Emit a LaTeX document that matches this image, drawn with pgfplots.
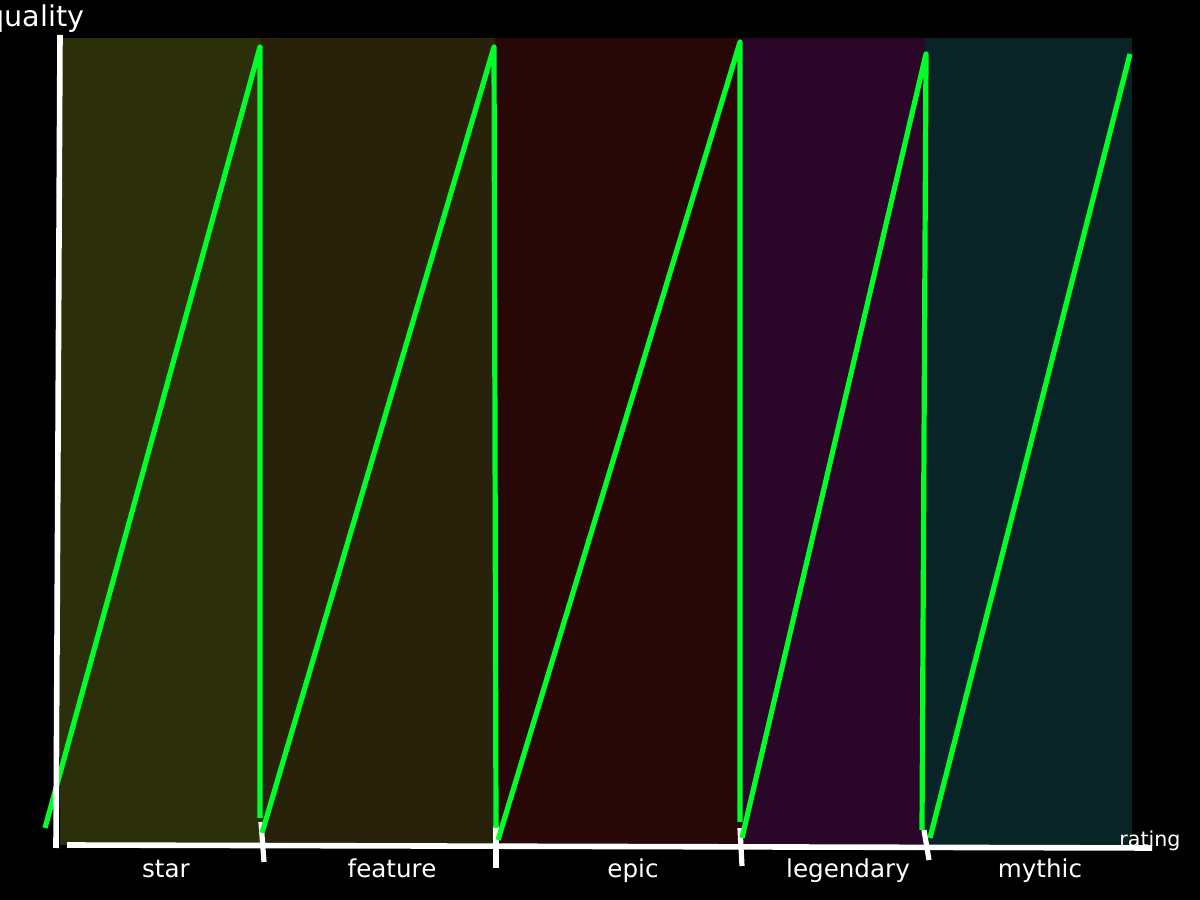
\documentclass[border=0pt]{standalone}
\usepackage{pgfplots}
\pgfplotsset{compat=1.18}
\usepackage{fontspec}
\setmainfont{DejaVu Sans}
\definecolor{cstar}{RGB}{43,48,11}
\definecolor{cfeature}{RGB}{40,34,11}
\definecolor{cepic}{RGB}{40,8,7}
\definecolor{clegendary}{RGB}{42,7,40}
\definecolor{cmythic}{RGB}{8,36,38}
\definecolor{cgreen}{RGB}{0,255,38}
\begin{document}
\begin{tikzpicture}[x=0.5pt,y=0.5pt]
\fill[black] (0,0) rectangle (1200,900);
\useasboundingbox (0,0) rectangle (1200,900);
\begin{axis}[
  at={(30pt,27.5pt)}, anchor=south west,
  scale only axis, width=536pt, height=403.5pt,
  xmin=60, xmax=1132, ymin=55, ymax=862,
  clip=false,
  axis line style={draw=none},
  ytick=\empty,
  xtick pos=bottom,
  xtick={166,392,633,848,1040},
  xticklabels={star,feature,epic,legendary,mythic},
  major tick length=0pt,
  every tick/.style={draw=none},
  xticklabel style={font=\fontsize{12.3}{14}\selectfont, text=white,
     anchor=base, yshift=-16.5pt},
]
% background bands
\addplot[fill=cstar, draw=none] coordinates {(60,55)(261,55)(261,862)(60,862)} -- cycle;
\addplot[fill=cfeature, draw=none] coordinates {(261,55)(495,55)(495,862)(261,862)} -- cycle;
\addplot[fill=cepic, draw=none] coordinates {(495,55)(740,55)(740,862)(495,862)} -- cycle;
\addplot[fill=clegendary, draw=none] coordinates {(740,55)(925,55)(925,862)(740,862)} -- cycle;
\addplot[fill=cmythic, draw=none] coordinates {(925,55)(1132,55)(1132,862)(925,862)} -- cycle;
% tick marks at the category boundaries
\draw[white, line width=2.6pt] (axis cs:261,78) -- (axis cs:264,38);
\draw[white, line width=2.6pt] (axis cs:496,74) -- (axis cs:496,32);
\draw[white, line width=2.6pt] (axis cs:740,72) -- (axis cs:742,34);
\draw[white, line width=2.6pt] (axis cs:924,70) -- (axis cs:929,40);
% quality sawtooth
\addplot[cgreen, line width=2.6pt, line join=round] coordinates {
 (45,72) (260,853) (260,82)
};
\addplot[cgreen, line width=2.6pt, line join=round] coordinates {
 (262,67) (494,853) (496,72)
};
\addplot[cgreen, line width=2.6pt, line join=round] coordinates {
 (498,60) (740,858) (740,78)
};
\addplot[cgreen, line width=2.6pt, line join=round] coordinates {
 (742,62) (926,846) (922,70)
};
\addplot[cgreen, line width=2.6pt, line join=round] coordinates {
 (930,62) (1130,846)
};
% spines
\draw[white, line width=2.8pt] (axis cs:60,865) -- (axis cs:56,52);
\draw[white, line width=2.8pt] (axis cs:67,55) -- (axis cs:1152,52);
\node[white, anchor=base, font=\fontsize{10.3}{12}\selectfont] at (axis cs:1150,53) {rating};
\node[white, anchor=base west, font=\fontsize{14.3}{16}\selectfont, inner sep=0pt] at (axis cs:-14,873) {quality};
\end{axis}
\end{tikzpicture}
\end{document}
